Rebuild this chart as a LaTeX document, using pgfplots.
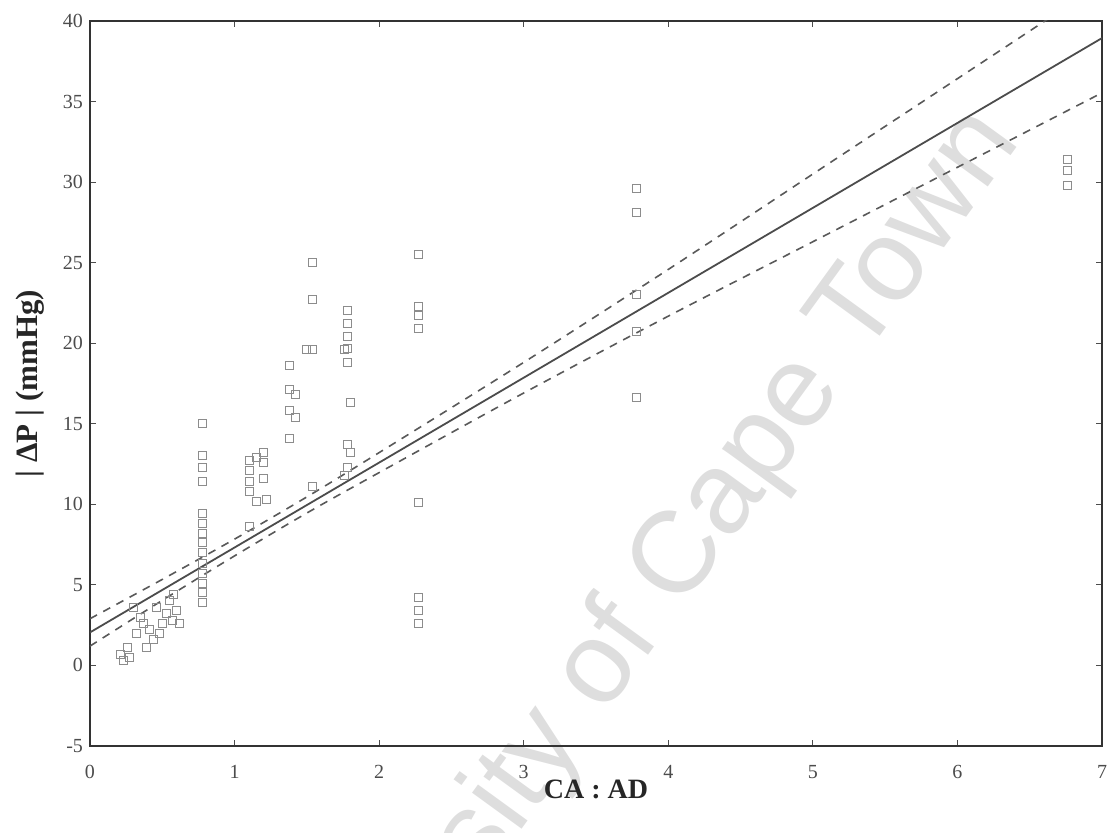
\documentclass[border=0pt]{standalone}
\usepackage{fontspec}
\setmainfont{Liberation Serif}
\newfontfamily\wmfont{Liberation Sans}
\usepackage{pgfplots}
\pgfplotsset{compat=1.18}
\begin{document}
\begin{tikzpicture}
% watermark (behind the plot)
\node[rotate=54, text=black!13, font=\wmfont\fontsize{58}{58}\selectfont, anchor=center] at (270pt,58pt) {University of Cape Town};
\begin{axis}[
  name=ax,
  scale only axis, width=506pt, height=362.5pt,
  xmin=0, xmax=7, ymin=-5, ymax=40,
  xtick={0,1,...,7}, ytick={-5,0,5,...,40},
  tick align=inside, major tick length=3pt,
  axis line style={line width=1pt, black!80},
  tick style={black!70, line width=0.6pt},
  /pgf/number format/assume math mode=true,
  ticklabel style={font=\fontsize{10}{12}\selectfont, text=black!70},
  xticklabel style={yshift=-6pt},
  xlabel={\bfseries CA : AD},
  ylabel={\bfseries | ΔP | (mmHg)},
  label style={text=black!85},
  xlabel style={font=\fontsize{14}{16}\selectfont, at={(axis description cs:0.5,-0.0593)}, anchor=center},
  ylabel style={font=\fontsize{15.5}{17}\selectfont, at={(axis description cs:-0.0593,0.5)}, anchor=center},
  clip=true,
]
% data points
\addplot[only marks, mark=square, mark size=2pt, mark options={draw=black!45, line width=0.5pt}] table {
x y
0.21 0.7
0.23 0.3
0.26 1.1
0.27 0.5
0.30 3.6
0.32 2.0
0.35 3.0
0.37 2.6
0.39 1.1
0.41 2.2
0.44 1.6
0.46 3.6
0.48 2.0
0.50 2.6
0.53 3.2
0.55 4.0
0.57 2.8
0.58 4.4
0.60 3.4
0.62 2.6
0.78 15.0
0.78 13.0
0.78 12.3
0.78 11.4
0.78 9.4
0.78 8.8
0.78 8.2
0.78 7.6
0.78 7.0
0.78 6.3
0.78 5.7
0.78 5.1
0.78 4.5
0.78 3.9
1.10 12.7
1.10 12.1
1.10 11.4
1.10 10.8
1.15 10.2
1.15 12.9
1.20 13.2
1.20 12.6
1.20 11.6
1.22 10.3
1.10 8.6
1.38 18.6
1.38 17.1
1.38 15.8
1.38 14.1
1.42 16.8
1.42 15.4
1.54 25.0
1.54 22.7
1.54 19.6
1.50 19.6
1.54 11.1
1.78 22.0
1.78 21.2
1.78 20.4
1.78 19.7
1.78 18.8
1.76 19.6
1.80 16.3
1.78 13.7
1.80 13.2
1.78 12.3
1.76 11.8
2.27 25.5
2.27 22.3
2.27 21.7
2.27 20.9
2.27 10.1
2.27 4.2
2.27 3.4
2.27 2.6
3.78 29.6
3.78 28.1
3.78 23.0
3.78 20.7
3.78 16.6
6.76 31.4
6.76 30.7
6.76 29.8
};
% regression line
\addplot[black!70, line width=0.9pt] coordinates {(0,2.05) (7,38.94)};
% confidence bands
\addplot[black!65, line width=0.8pt, dash pattern=on 4pt off 3.5pt, smooth] coordinates {
(0,2.90) (0.5,5.34) (1,7.84) (1.5,10.46) (2,13.21) (3,18.81) (4,24.58) (5,30.50) (6,36.42) (7,42.34)};
\addplot[black!65, line width=0.8pt, dash pattern=on 4pt off 3.5pt, smooth] coordinates {
(0,1.20) (0.5,4.04) (1,6.80) (1.5,9.46) (2,11.97) (3,16.91) (4,21.68) (5,26.30) (6,30.92) (7,35.54)};
\end{axis}
\pgfresetboundingbox
\path[use as bounding box] (-45pt,-43.5pt) rectangle (508.5pt,373pt);
\end{tikzpicture}
\end{document}
